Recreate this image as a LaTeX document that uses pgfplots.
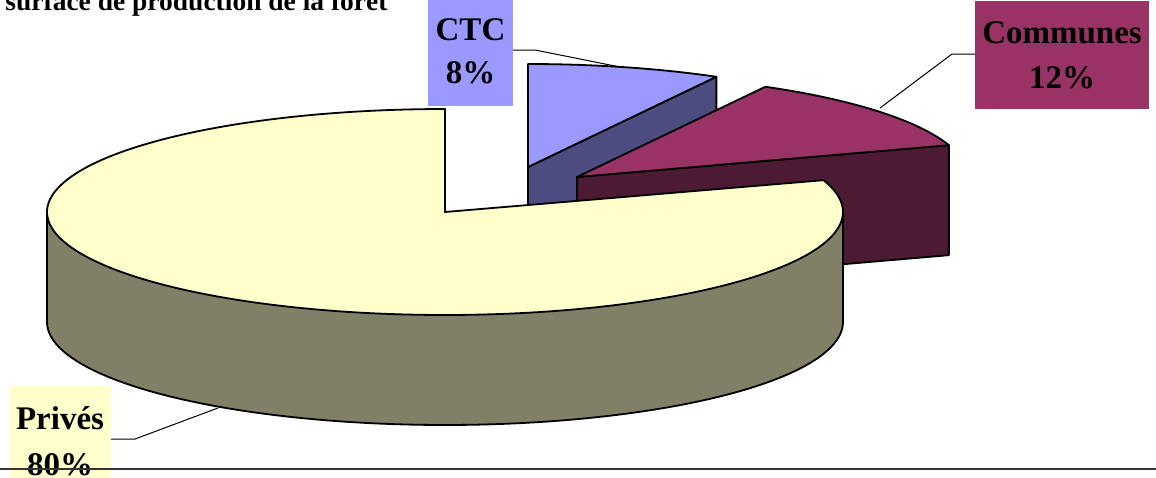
\documentclass[border=0pt]{standalone}
\usepackage{fontspec}
\setmainfont{Liberation Serif}
\usepackage{pgfplots}
\usepackage{pgfplotstable}
\pgfplotsset{compat=1.18}

\definecolor{privtop}{HTML}{FFFFCC}
\definecolor{privside}{HTML}{808066}
\definecolor{commtop}{HTML}{993366}
\definecolor{commside}{HTML}{4D1A33}
\definecolor{ctctop}{HTML}{9999FF}
\definecolor{ctcside}{HTML}{4C4C80}
\definecolor{rulegray}{HTML}{333333}

\pgfplotstableread{
slice value
Prives 80
Communes 12
CTC 8
}\piedata

\begin{document}
\pgfplotstablegetelem{0}{value}\of\piedata \edef\vP{\pgfplotsretval}%
\pgfplotstablegetelem{1}{value}\of\piedata \edef\vC{\pgfplotsretval}%
\pgfplotstablegetelem{2}{value}\of\piedata \edef\vT{\pgfplotsretval}%
\pgfmathsetmacro\angA{90}%
\pgfmathsetmacro\angB{\angA+3.6*\vP}%
\pgfmathsetmacro\angC{\angB+3.6*\vC}%
\pgfmathsetmacro\angD{\angC+3.6*\vT}%
\def\rA{398}\def\rX{391}\def\rB{103}\def\dep{110}%
\def\xP{445}\def\yP{212}%
\def\xC{577}\def\yC{177}%
\def\xT{528}\def\yT{167}%
\pgfmathsetmacro\xTa{\xT+\rX*cos(\angC)}%
\pgfmathsetmacro\yTa{\yT-\rB*sin(\angC)}%
\pgfmathsetmacro\yTaD{\yTa+\dep}%
\pgfmathsetmacro\yTD{\yT+\dep}%
\pgfmathsetmacro\xCa{\xC+\rX*cos(\angB)}%
\pgfmathsetmacro\yCa{\yC-\rB*sin(\angB)}%
\pgfmathsetmacro\yCaD{\yCa+\dep}%
\pgfmathsetmacro\yCD{\yC+\dep}%
\pgfmathsetmacro\xPl{\xP-\rA}%
\pgfmathsetmacro\xPr{\xP+\rA}%
\pgfmathsetmacro\yPD{\yP+\dep}%
\begin{tikzpicture}
\useasboundingbox (0,0) rectangle (578pt,238.5pt);
\clip (0,0) rectangle (578pt,238.5pt);
\begin{axis}[at={(0,0)}, anchor=south west, width=578pt, height=238.5pt,
  scale only axis, xmin=0, xmax=1156, ymin=0, ymax=477, y dir=reverse,
  hide axis, clip=false, no markers]
% CTC slice
\addplot[fill=ctcside, draw=black, line width=0.9pt, line join=round]
  coordinates {(\xT,\yT) (\xTa,\yTa) (\xTa,\yTaD) (\xT,\yTD)} -- cycle;
\addplot[fill=ctctop, draw=black, line width=0.9pt, line join=round,
  domain=\angC:\angD, samples=30, variable=\s]
  ({\xT+\rX*cos(\s)},{\yT-\rB*sin(\s)}) -- (axis cs:\xT,\yT) -- cycle;
% Communes slice
\addplot[fill=commside, draw=black, line width=0.9pt, line join=round]
  coordinates {(\xC,\yC) (\xCa,\yCa) (\xCa,\yCaD) (\xC,\yCD)} -- cycle;
\addplot[fill=commtop, draw=black, line width=0.9pt, line join=round,
  domain=\angB:\angC, samples=40, variable=\s]
  ({\xC+\rX*cos(\s)},{\yC-\rB*sin(\s)}) -- (axis cs:\xC,\yC) -- cycle;
% Prives slice
\addplot[fill=privside, draw=black, line width=0.9pt, line join=round,
  domain=180:360, samples=90, variable=\s]
  ({\xP+\rA*cos(\s)},{\yPD-\rB*sin(\s)}) -- (axis cs:\xPr,\yP) -- (axis cs:\xPl,\yP) -- cycle;
\addplot[fill=privtop, draw=black, line width=0.9pt, line join=round,
  domain=\angA:\angB, samples=150, variable=\s]
  ({\xP+\rA*cos(\s)},{\yP-\rB*sin(\s)}) -- (axis cs:\xP,\yP) -- cycle;

% title (cut at top)
\node[anchor=base west, font=\bfseries\fontsize{13.75pt}{16pt}\selectfont, inner sep=0pt]
  at (axis cs:5,10) {surface de production de la forêt};

% labels
\fill[ctctop] (axis cs:428,-5) rectangle (axis cs:513,106);
\draw[line width=0.5pt] (axis cs:513,50) -- (axis cs:535,50) -- (axis cs:620,67);
\node[anchor=base, inner sep=0pt, font=\bfseries\fontsize{16.5pt}{20pt}\selectfont] at (axis cs:470.5,40) {CTC};
\node[anchor=base, inner sep=0pt, font=\bfseries\fontsize{16.5pt}{20pt}\selectfont] at (axis cs:470.5,83) {8\%};

\fill[commtop] (axis cs:975,1) rectangle (axis cs:1149,109);
\draw[line width=0.5pt] (axis cs:975,54) -- (axis cs:952,54) -- (axis cs:880,108);
\node[anchor=base, inner sep=0pt, font=\bfseries\fontsize{16.5pt}{20pt}\selectfont] at (axis cs:1062,43) {Communes};
\node[anchor=base, inner sep=0pt, font=\bfseries\fontsize{16.5pt}{20pt}\selectfont] at (axis cs:1062,88) {12\%};

\fill[privtop] (axis cs:10,386) rectangle (axis cs:111,485);
\draw[line width=0.5pt] (axis cs:111,439) -- (axis cs:135,439) -- (axis cs:218,408);
\node[anchor=base, inner sep=0pt, font=\bfseries\fontsize{16.5pt}{20pt}\selectfont] at (axis cs:60,429) {Privés};
\node[anchor=base, inner sep=0pt, font=\bfseries\fontsize{16.5pt}{20pt}\selectfont] at (axis cs:60,475) {80\%};

% bottom rule
\draw[rulegray, line width=1pt] (axis cs:0,469) -- (axis cs:1156,469);
\end{axis}
\end{tikzpicture}
\end{document}
